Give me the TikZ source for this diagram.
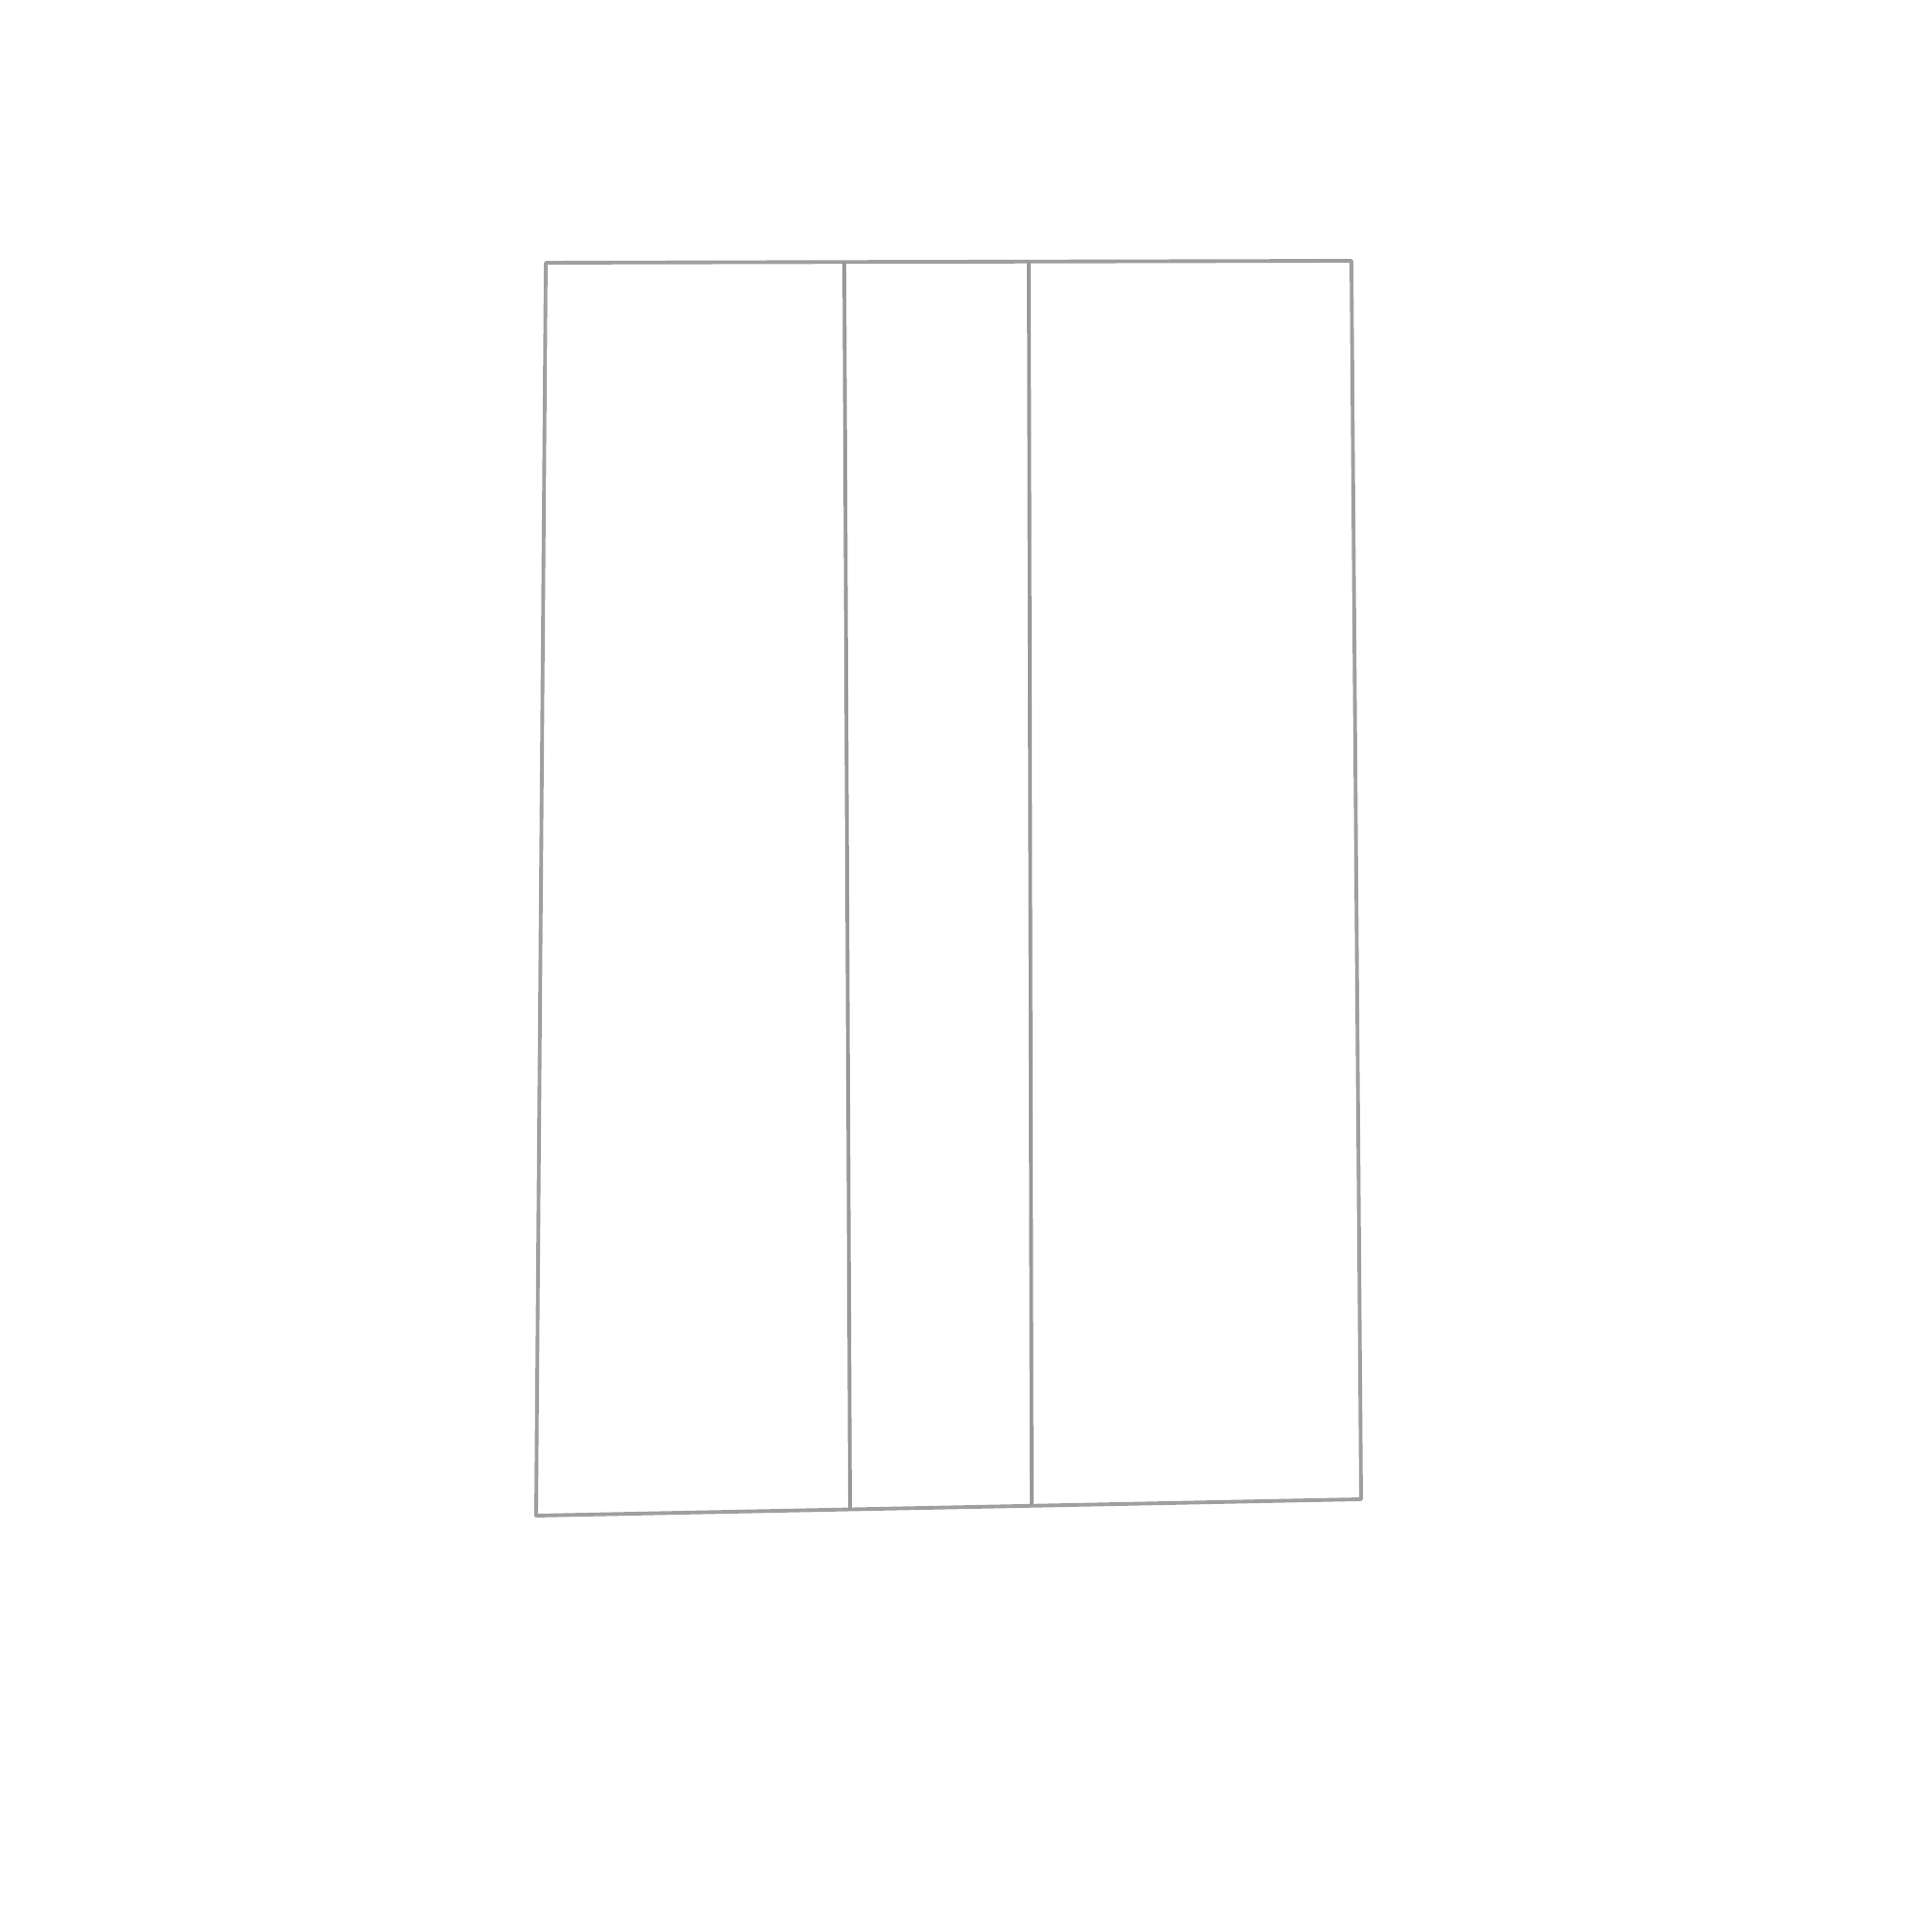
\documentclass[tikz,border=0pt]{standalone}
\usetikzlibrary{positioning}

\begin{document}
\begin{tikzpicture}
    \tikzset{
        framestyle/.style={gray!75, line width=1.1pt, line join=round},
        dividerstyle/.style={gray!80, line width=1.1pt}
    }

    \useasboundingbox (0,0) rectangle (20,20);

    % corners of the frame
    \coordinate (tl) at (5.65,17.28);
    \coordinate (tr) at (13.99,17.30);
    \coordinate (br) at (14.09,4.48);
    \coordinate (bl) at (5.55,4.31);

    % ends of the two dividers
    \coordinate (d1top) at (8.74,17.29);
    \coordinate (d1bot) at (8.80,4.37);
    \coordinate (d2top) at (10.65,17.29);
    \coordinate (d2bot) at (10.68,4.41);

    \draw[framestyle] (tl) -- (tr) -- (br) -- (bl) -- cycle;
    \draw[dividerstyle] (d1top) -- (d1bot);
    \draw[dividerstyle] (d2top) -- (d2bot);

\end{tikzpicture}
\end{document}
